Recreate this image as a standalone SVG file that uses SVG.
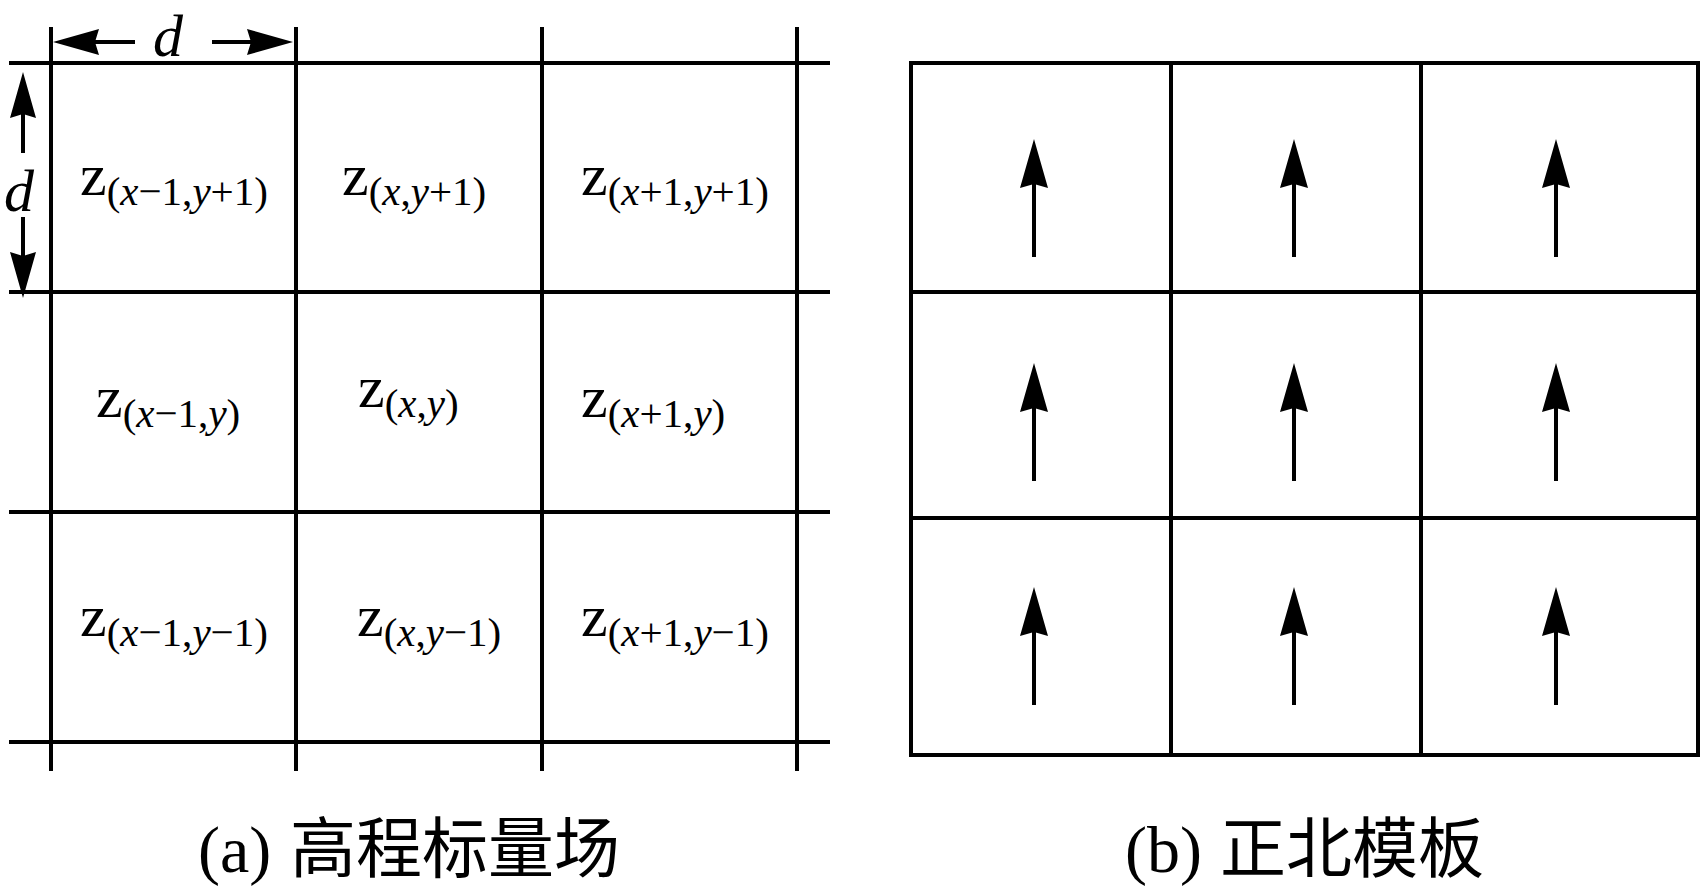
<svg xmlns="http://www.w3.org/2000/svg" xmlns:xlink="http://www.w3.org/1999/xlink" width="1701" height="889" viewBox="0 0 1701 889">
  <style>
    .grid { stroke: #000; stroke-width: 4; fill: none; }
    .shaft { stroke: #000; stroke-width: 4; fill: none; }
    .head { fill: #000; stroke: none; }
    .z { font-family: "Liberation Serif", "Times New Roman", serif; font-size: 60px; fill: #000; }
    .sub { font-family: "Liberation Serif", "Times New Roman", serif; font-size: 41px; }
    .it { font-style: italic; }
    .dim { font-family: "Liberation Serif", "Times New Roman", serif; font-style: italic; font-size: 60px; fill: #000; }
    .cap { font-family: "Liberation Serif", "Times New Roman", serif; font-size: 66px; fill: #000; }
    .cjk { font-family: "Noto Sans CJK SC", "Noto Sans CJK JP", sans-serif; font-size: 66px; }
  </style>
  <defs>
    <g id="north">
      <line class="shaft" x1="0" y1="40" x2="0" y2="118"/>
      <path class="head" d="M0,0 L14,49 L0,45 L-14,49 Z"/>
    </g>
    <path id="dimHead" class="head" d="M0,0 L46,-13 L42,0 L46,13 Z"/>
  </defs>
  <rect width="1701" height="889" fill="#fff"/>

  <!-- Panel (a): elevation scalar field grid -->
  <g id="gridA">
    <line class="grid" x1="9" y1="63" x2="830" y2="63"/>
    <line class="grid" x1="9" y1="292" x2="830" y2="292"/>
    <line class="grid" x1="9" y1="512" x2="830" y2="512"/>
    <line class="grid" x1="9" y1="742" x2="830" y2="742"/>
    <line class="grid" x1="51" y1="27" x2="51" y2="771"/>
    <line class="grid" x1="296" y1="27" x2="296" y2="771"/>
    <line class="grid" x1="542" y1="27" x2="542" y2="771"/>
    <line class="grid" x1="797" y1="27" x2="797" y2="771"/>
  </g>

  <g id="dimensions">
    <use xlink:href="#dimHead" transform="translate(53,42)"/>
    <line class="shaft" x1="94" y1="42" x2="135" y2="42"/>
    <line class="shaft" x1="212" y1="42" x2="252" y2="42"/>
    <use xlink:href="#dimHead" transform="translate(293,42) rotate(180)"/>
    <text class="dim" x="168" y="56" text-anchor="middle">d</text>
    <use xlink:href="#dimHead" transform="translate(23,72) rotate(90)"/>
    <line class="shaft" x1="23" y1="114" x2="23" y2="153"/>
    <line class="shaft" x1="23" y1="217" x2="23" y2="256"/>
    <use xlink:href="#dimHead" transform="translate(23,298) rotate(-90)"/>
    <text class="dim" x="19" y="211" text-anchor="middle">d</text>
  </g>

  <g id="cell-a-r1c1"><text class="z" x="80" y="195">z<tspan class="sub" dy="10">(<tspan class="it">x</tspan>−1,<tspan class="it">y</tspan>+1)</tspan></text></g>
  <g id="cell-a-r1c2"><text class="z" x="342" y="195">z<tspan class="sub" dy="10">(<tspan class="it">x</tspan>,<tspan class="it">y</tspan>+1)</tspan></text></g>
  <g id="cell-a-r1c3"><text class="z" x="581" y="195">z<tspan class="sub" dy="10">(<tspan class="it">x</tspan>+1,<tspan class="it">y</tspan>+1)</tspan></text></g>
  <g id="cell-a-r2c1"><text class="z" x="96" y="417">z<tspan class="sub" dy="10">(<tspan class="it">x</tspan>−1,<tspan class="it">y</tspan>)</tspan></text></g>
  <g id="cell-a-r2c2"><text class="z" x="358" y="407">z<tspan class="sub" dy="10">(<tspan class="it">x</tspan>,<tspan class="it">y</tspan>)</tspan></text></g>
  <g id="cell-a-r2c3"><text class="z" x="581" y="417">z<tspan class="sub" dy="10">(<tspan class="it">x</tspan>+1,<tspan class="it">y</tspan>)</tspan></text></g>
  <g id="cell-a-r3c1"><text class="z" x="80" y="636">z<tspan class="sub" dy="10">(<tspan class="it">x</tspan>−1,<tspan class="it">y</tspan>−1)</tspan></text></g>
  <g id="cell-a-r3c2"><text class="z" x="357" y="636">z<tspan class="sub" dy="10">(<tspan class="it">x</tspan>,<tspan class="it">y</tspan>−1)</tspan></text></g>
  <g id="cell-a-r3c3"><text class="z" x="581" y="636">z<tspan class="sub" dy="10">(<tspan class="it">x</tspan>+1,<tspan class="it">y</tspan>−1)</tspan></text></g>

  <!-- Panel (b): north template -->
  <g id="gridB">
    <rect class="grid" x="911" y="63" width="787" height="692"/>
    <line class="grid" x1="911" y1="292" x2="1698" y2="292"/>
    <line class="grid" x1="911" y1="518" x2="1698" y2="518"/>
    <line class="grid" x1="1171" y1="63" x2="1171" y2="755"/>
    <line class="grid" x1="1421" y1="63" x2="1421" y2="755"/>
  </g>

  <g id="connectors">
    <use xlink:href="#north" transform="translate(1034,139)"/>
    <use xlink:href="#north" transform="translate(1294,139)"/>
    <use xlink:href="#north" transform="translate(1556,139)"/>
    <use xlink:href="#north" transform="translate(1034,363)"/>
    <use xlink:href="#north" transform="translate(1294,363)"/>
    <use xlink:href="#north" transform="translate(1556,363)"/>
    <use xlink:href="#north" transform="translate(1034,587)"/>
    <use xlink:href="#north" transform="translate(1294,587)"/>
    <use xlink:href="#north" transform="translate(1556,587)"/>
  </g>

  <g id="caption-a"><text class="cap" x="198" y="872">(a)<tspan class="cjk" x="290">高程标量场</tspan></text></g>
  <g id="caption-b"><text class="cap" x="1125" y="872">(b)<tspan class="cjk" x="1220">正北模板</tspan></text></g>
</svg>
